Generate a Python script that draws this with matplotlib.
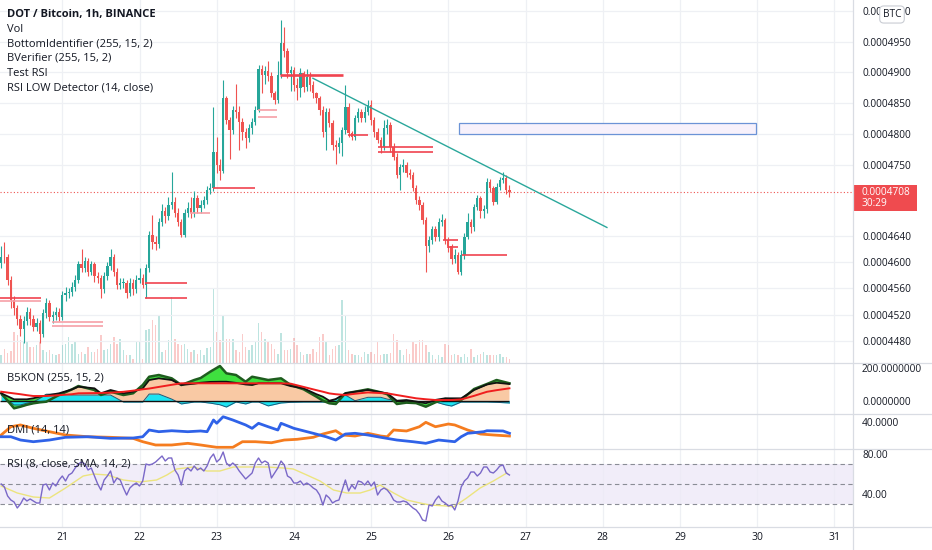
import numpy as np
import matplotlib
matplotlib.use("Agg")
import matplotlib.pyplot as plt
from matplotlib.patches import Rectangle
from matplotlib.lines import Line2D
from matplotlib.ticker import FixedLocator, FuncFormatter, NullLocator, NullFormatter

plt.rcParams['font.family'] = ['Open Sans', 'DejaVu Sans']

# ---------------- data (prices in units of 1e-7 BTC; x = hours since Jan 20 05:00) ----------------
first_open = 4598
closes = [4608, 4607, 4573, 4542, 4530, 4514, 4499, 4511, 4524, 4514,
          4502, 4507, 4491, 4522, 4538, 4516, 4519, 4524, 4516, 4550,
          4553, 4554, 4562, 4573, 4596, 4591, 4601, 4585, 4596, 4578,
          4576, 4558, 4578, 4593, 4608, 4584, 4565, 4568, 4568, 4553,
          4568, 4558, 4573, 4576, 4565, 4591, 4642, 4630, 4627, 4661,
          4678, 4671, 4688, 4693, 4676, 4661, 4642, 4676, 4684, 4676,
          4699, 4684, 4688, 4696, 4712, 4715, 4772, 4751, 4742, 4858,
          4823, 4807, 4839, 4836, 4820, 4804, 4794, 4810, 4820, 4839,
          4905, 4895, 4902, 4894, 4866, 4855, 4895, 4948, 4935, 4898,
          4903, 4879, 4874, 4898, 4876, 4892, 4879, 4866, 4858, 4839,
          4804, 4836, 4818, 4783, 4780, 4786, 4807, 4844, 4802, 4796,
          4826, 4836, 4826, 4836, 4847, 4823, 4804, 4791, 4780, 4810,
          4815, 4780, 4764, 4735, 4747, 4751, 4738, 4735, 4715, 4696,
          4688, 4665, 4624, 4634, 4650, 4638, 4662, 4664, 4634, 4624,
          4604, 4611, 4585, 4611, 4639, 4661, 4653, 4685, 4699, 4678,
          4681, 4724, 4715, 4693, 4716, 4727, 4730, 4712, 4708]
highs = [4625, 4630, 4612, 4578, 4548, 4535, 4520, 4518, 4532, 4530,
         4520, 4515, 4512, 4528, 4545, 4542, 4526, 4532, 4530, 4556,
         4562, 4560, 4570, 4580, 4602, 4620, 4607, 4606, 4602, 4600,
         4584, 4580, 4584, 4600, 4620, 4612, 4590, 4575, 4576, 4572,
         4575, 4574, 4580, 4590, 4582, 4596, 4648, 4672, 4640, 4668,
         4690, 4685, 4700, 4739, 4700, 4684, 4666, 4682, 4692, 4700,
         4710, 4704, 4695, 4702, 4718, 4722, 4844, 4796, 4760, 4887,
         4862, 4828, 4845, 4880, 4845, 4825, 4810, 4816, 4826, 4845,
         4912, 4911, 4910, 4918, 4900, 4870, 4918, 4986, 4975, 4940,
         4910, 4908, 4890, 4907, 4902, 4905, 4900, 4885, 4868, 4862,
         4845, 4842, 4842, 4822, 4790, 4795, 4812, 4879, 4850, 4805,
         4830, 4842, 4840, 4845, 4855, 4855, 4828, 4810, 4795, 4822,
         4824, 4820, 4785, 4770, 4752, 4760, 4756, 4745, 4740, 4720,
         4702, 4692, 4670, 4640, 4655, 4656, 4668, 4674, 4668, 4638,
         4628, 4620, 4615, 4618, 4645, 4676, 4666, 4690, 4704, 4702,
         4688, 4730, 4728, 4718, 4722, 4732, 4740, 4735, 4720]
lows = [4590, 4598, 4565, 4530, 4520, 4505, 4488, 4478, 4505, 4505,
        4495, 4496, 4478, 4486, 4515, 4510, 4508, 4512, 4510, 4512,
        4540, 4545, 4548, 4555, 4568, 4585, 4585, 4578, 4580, 4570,
        4568, 4545, 4552, 4572, 4588, 4578, 4558, 4558, 4560, 4545,
        4548, 4550, 4552, 4568, 4560, 4545, 4585, 4620, 4618, 4622,
        4655, 4660, 4665, 4682, 4670, 4655, 4638, 4638, 4670, 4668,
        4670, 4676, 4676, 4684, 4690, 4705, 4710, 4738, 4727, 4738,
        4816, 4760, 4800, 4826, 4775, 4790, 4778, 4788, 4800, 4815,
        4835, 4866, 4880, 4885, 4860, 4848, 4850, 4890, 4925, 4890,
        4870, 4870, 4855, 4860, 4868, 4870, 4870, 4858, 4850, 4830,
        4795, 4775, 4812, 4775, 4752, 4770, 4765, 4800, 4795, 4790,
        4790, 4820, 4820, 4820, 4830, 4815, 4795, 4785, 4770, 4775,
        4800, 4772, 4758, 4730, 4712, 4740, 4732, 4728, 4710, 4690,
        4680, 4658, 4584, 4615, 4628, 4632, 4632, 4655, 4628, 4615,
        4596, 4598, 4582, 4580, 4605, 4635, 4645, 4648, 4680, 4668,
        4668, 4676, 4708, 4688, 4690, 4712, 4722, 4705, 4700]
volumes = [8, 14, 10, 12, 31, 28, 23, 21, 21, 16,
           16, 18, 21, 13, 11, 13, 9, 8, 9, 18,
           19, 26, 19, 21, 9, 11, 9, 16, 11, 11,
           14, 28, 13, 14, 19, 26, 19, 24, 13, 8,
           8, 4, 21, 21, 4, 33, 34, 43, 38, 48,
           11, 13, 23, 66, 24, 19, 18, 19, 14, 11,
           13, 9, 13, 8, 15, 16, 75, 31, 23, 48,
           24, 24, 24, 13, 11, 29, 16, 13, 18, 21,
           40, 31, 24, 21, 19, 14, 9, 30, 13, 13,
           14, 25, 18, 11, 8, 9, 9, 14, 11, 26,
           29, 21, 8, 14, 17, 18, 63, 47, 13, 9,
           8, 8, 6, 11, 9, 11, 9, 21, 8, 9,
           9, 10, 29, 23, 13, 8, 14, 9, 21, 19,
           23, 23, 18, 11, 8, 4, 8, 6, 19, 18,
           8, 9, 8, 6, 9, 6, 14, 6, 8, 9,
           11, 8, 8, 8, 8, 9, 6, 6, 4]

# support / resistance levels (BottomIdentifier / BVerifier)
lv_price = [4545, 4541, 4509, 4503, 4568, 4545, 4676, 4715, 4838, 4827, 4895,
            4798, 4780, 4772, 4634, 4623, 4610]
lv_start = [-0.4, -0.4, 15.7, 15.7, 44.7, 44.7, 58.7, 65.8, 79.8, 79.8, 86.7,
            107.8, 117.1, 117.1, 137.3, 138.5, 143.2]
lv_end = [12.3, 12.3, 31.7, 31.7, 57.7, 57.7, 64.9, 78.9, 85.7, 85.7, 106.2,
          114.0, 134.1, 134.1, 142.0, 142.0, 157.2]
lv_strong = [True, False, False, False, True, True, False, True, False, False, True,
             True, True, True, True, True, True]

trend_t = [96.9, 188.3]
trend_p = [4890, 4653]
zone_t = [142.3, 234.6]
zone_p = [4800.8, 4818.4]
last_price = 4708

# B5KON indicator
bsk_idx = [0, 4, 6, 8, 10, 12, 14, 18, 22, 24, 29, 31, 34, 38, 41, 44, 46, 49, 53, 56,
           60, 62, 65, 68, 70, 73, 76, 78, 80, 83, 87, 90, 94, 98, 100, 102, 104, 107,
           110, 114, 118, 120, 123, 126, 129, 132, 135, 138, 140, 143, 147, 151, 154, 158]
bsk_black = [45.7, 8.6, 8.6, 8.6, 15, 24.7, 32, 45.7, 70, 86.4, 76.5, 45.7, 66, 45.7, 55.5,
             76.5, 127.7, 138.2, 127.7, 96.9, 105, 111, 116, 117.2, 117.2, 110, 100, 96.9,
             107.4, 107.4, 107.4, 90, 76.5, 40, 24.7, 0, 10, 45.7, 55.5, 66, 52, 45.7, 0,
             4.3, -5, -16, 5, 14.8, 14.8, 14.8, 66, 100, 111, 103]
bsk_green = [45.7, -46.9, -37, -25, -16, -10, -6.2, 35.2, 70, 90.7, 66, 35.2, 55.5, 35.2,
             45.7, 96.9, 148, 158.6, 138.2, 96.9, 127.7, 140, 179, 214, 169, 158.6, 117.2,
             148, 140, 127.7, 138.2, 96.9, 70.3, 24.7, 0, -16, -20.4, 45.7, 55.5, 70.3, 51.8,
             40, -20.4, -12, -15, -37, -9.9, 10.5, 8, 4.3, 72.2, 103, 127.7, 107.4]
bsk_cyan = [35, -26, -26, -15, -8, 15, 40, 41, 35, 35, 35, 35, 35, -8, -8, -8, 41, 41, 10,
            -20, -8, -8, -15, -25, -39, -8, -20, -8, -8, -32, -14, -10, -8, -8, -8, -8, 10,
            35, 0, 21, 21, 10, 0, -10, -12, -8, -8, -25, -33, -8, -8, -8, -10, -14]
bsk_red = [55.5, 45, 40, 34, 29, 29, 29, 34, 40, 45.7, 47, 48, 49.4, 55, 62, 70.3, 75, 85,
           98, 107.4, 107.4, 107.4, 107.4, 107.4, 107.4, 107.4, 107.4, 107.4, 107.4, 107.4,
           107.4, 105, 85, 65, 55.5, 45, 40, 35.2, 43, 51, 47, 45.7, 35, 25, 14.8, 9, 4.3,
           4.3, 4.3, 8, 30, 55, 65, 76.5]

# DMI
dmi_plus_idx = [0, 3, 6, 10, 15, 20, 27, 34, 41, 44, 46, 49, 53, 58, 62, 64, 66, 67, 69, 72,
                76, 78, 80, 83, 86, 87, 91, 97, 101, 104, 107, 110, 114, 118, 123, 128, 132,
                136, 141, 143, 145, 150, 151, 156, 158]
dmi_plus = [21.2, 21.2, 17.1, 15, 17.1, 20.5, 21.2, 19.2, 19.6, 21.2, 29.6, 27.5, 28.7, 27.5,
            28.4, 27.5, 42.1, 38, 46.2, 42.1, 35.9, 31.7, 38, 33.7, 29.6, 38, 31.7, 25.5, 21.2,
            17.1, 24.6, 25.5, 23.4, 20.5, 17.1, 15, 13, 17.1, 15, 21.2, 25.5, 27.5, 28.7, 28.4,
            25.5]
dmi_minus_idx = [0, 3, 6, 10, 15, 20, 27, 34, 41, 44, 48, 53, 58, 62, 67, 72, 75, 79, 84, 88,
                 92, 97, 100, 104, 106, 110, 114, 118, 120, 122, 126, 130, 132, 135, 139, 141,
                 145, 149, 153, 158]
dmi_minus = [23.4, 33.7, 35.9, 31.7, 27.5, 23.4, 21.2, 20.5, 19.2, 15, 10.9, 10.9, 13, 10.9,
             8, 8, 15, 15, 13.7, 17.1, 18, 20.5, 24.6, 28.7, 23.4, 22.1, 25.5, 22.1, 21.2, 29.6,
             28.4, 33.7, 39.2, 33.7, 37.1, 35.9, 29.6, 24.6, 23.4, 22.1]

# RSI (8) and its SMA (14)
rsi = [50, 47, 38, 34, 32, 26, 30, 36, 33, 35,
       33, 31, 31, 49, 50, 44, 51, 48, 54, 58,
       53, 59, 61, 66, 70, 72, 70, 64, 66, 58,
       50, 44, 54, 58, 63, 51, 56, 54, 46, 39,
       46, 49, 51, 48, 53, 70, 69, 70, 72, 75,
       78, 73, 76, 76, 64, 59, 49, 63, 66, 63,
       68, 64, 66, 63, 68, 76, 80, 72, 75, 82,
       71, 68, 71, 68, 63, 59, 55, 58, 61, 71,
       76, 71, 73, 71, 56, 61, 66, 73, 69, 58,
       56, 51, 51, 53, 49, 51, 49, 46, 44, 39,
       29, 39, 36, 31, 33, 34, 44, 54, 43, 49,
       45, 53, 52, 49, 53, 48, 52, 39, 44, 46,
       44, 40, 34, 32, 32, 33, 32, 29, 26, 24,
       20, 14, 13, 29, 28, 34, 38, 33, 31, 28,
       29, 24, 33, 47, 53, 56, 62, 62, 58, 61,
       67, 67, 62, 61, 64, 68, 69, 61, 59]
sma_idx = [0, 5, 10, 15, 20, 25.5, 28.7, 33, 38, 43, 48.3, 51.5, 54.5, 59.7, 63.9, 68, 72.2,
           77.4, 82.5, 87.7, 90.8, 95, 99.1, 103.3, 107.4, 111.6, 114.7, 117.8, 122, 126.1,
           130.2, 133.3, 138.5, 140.6, 144.7, 148.9, 153, 157.2]
sma_val = [48, 41, 37, 36, 46, 58, 60, 59, 54, 52, 54, 59, 65, 67, 63, 63, 67, 67, 67, 66, 65,
           59, 53, 44, 41, 41, 44, 49, 41, 34, 31, 29, 28, 27, 36, 46, 53, 61]

day_labels = ["21", "22", "23", "24", "25", "26", "27", "28", "29", "30", "31"]
day_pos = [19 + 24 * k for k in range(len(day_labels))]

main_ticks = [4480, 4520, 4560, 4600, 4640, 4750, 4800, 4850, 4900, 4950, 5000]

# ---------------- figure ----------------
W, H = 932, 550
fig = plt.figure(figsize=(W / 100, H / 100), dpi=100)
fig.patch.set_facecolor('white')

PLOT_R = 853
XLIM = (-0.37, 264.8)
UP, DN = '#26a69a', '#ef5350'
GRID = '#eef0f4'
TXT = '#131722'
SEP = '#d9dce3'


def pane(top, bottom):
    a = fig.add_axes([0, 1 - bottom / H, PLOT_R / W, (bottom - top) / H])
    a.set_xlim(*XLIM)
    for s in a.spines.values():
        s.set_visible(False)
    a.set_xticks(day_pos)
    a.tick_params(axis='x', length=0, labelbottom=False)
    a.xaxis.grid(True, color=GRID, lw=0.9)
    a.yaxis.tick_right()
    a.tick_params(axis='y', length=0, pad=6.5, labelsize=7.3, labelcolor=TXT)
    a.set_axisbelow(True)
    return a


ax_vol = pane(0, 362.5)
ax = pane(0, 362.5)
ax_b = pane(362.5, 414)
ax_d = pane(414, 449)
ax_r = pane(449, 526.7)

# volume (behind price)
ax_vol.set_zorder(0)
ax.set_zorder(1)
ax.patch.set_visible(False)
ax_vol.set_yticks([])
ax_vol.set_ylim(0, 362.5)

o = np.array([first_open] + closes[:-1], dtype=float)
c = np.array(closes, dtype=float)
hi = np.array(highs, dtype=float)
lo = np.array(lows, dtype=float)
t = np.arange(len(c))
up = c >= o
cols = np.where(up, UP, DN)
ax_vol.bar(t, volumes, width=0.45, color=[UP if u else DN for u in up], alpha=0.3, lw=0)

# main price pane
ax.set_yscale('log')
ax.set_ylim(4448.4, 5019.1)
ax.yaxis.set_major_locator(FixedLocator(main_ticks))
ax.yaxis.set_minor_locator(NullLocator())
ax.yaxis.set_minor_formatter(NullFormatter())
ax.yaxis.set_major_formatter(FuncFormatter(lambda v, p: f"{v * 1e-7:.7f}"))
ax.yaxis.grid(True, color=GRID, lw=0.9)
ax.xaxis.grid(False)

ax.vlines(t, lo, hi, colors=cols, lw=0.8, zorder=3)
ax.bar(t, np.maximum(np.abs(c - o), 1.2), bottom=np.minimum(o, c), width=0.72,
       color=cols, lw=0, zorder=4)

for p, s, e, strong in zip(lv_price, lv_start, lv_end, lv_strong):
    ax.hlines(p, s, e, colors='#f0434f' if strong else '#f6a0a7',
              lw=1.9 if (strong and p == 4895) else 1.2, zorder=5)

ax.plot(trend_t, trend_p, color='#2aa79b', lw=1.0, zorder=5)
ax.add_patch(Rectangle((zone_t[0], zone_p[0]), zone_t[1] - zone_t[0], zone_p[1] - zone_p[0],
                       facecolor='#f7f1fb', edgecolor='#6b93d6', lw=0.9, zorder=2))
ax.axhline(last_price, color='#ef5350', ls=(0, (1, 2)), lw=0.8, zorder=2)

# B5KON pane
ax_b.set_ylim(-82, 235.7)
ax_b.set_yticks([0, 200])
ax_b.yaxis.set_major_formatter(FuncFormatter(lambda v, p: f"{v:.7f}"))
bi = np.array(bsk_idx, dtype=float)
bb = np.array(bsk_black)
bg = np.array(bsk_green)
bc = np.array(bsk_cyan)
ax_b.fill_between(bi, 0, bb, where=bb > 0, interpolate=True, color='#f9c9a4', lw=0, zorder=2)
ax_b.fill_between(bi, bb, bg, color='#3fe03f', lw=0, zorder=2)
ax_b.fill_between(bi, 0, bc, color='#1de4f2', lw=0, zorder=3)
ax_b.plot(bi, bc, color='#1c5a7a', lw=0.7, zorder=3)
ax_b.hlines(0, bi[0] - 0.4, bi[-1], color='#111111', lw=1.0, zorder=4)
ax_b.plot(bi, bg, color='#1e5d1e', lw=1.8, zorder=5)
ax_b.plot(bi, bb, color='#111111', lw=1.3, zorder=6)
ax_b.plot(bsk_idx, bsk_red, color='#f01e1e', lw=1.4, zorder=7)

# DMI pane
ax_d.set_ylim(5.9, 49.6)
ax_d.set_yticks([40])
ax_d.yaxis.set_major_formatter(FuncFormatter(lambda v, p: f"{v:.4f}"))
ax_d.plot(dmi_minus_idx, dmi_minus, color='#f57c1f', lw=2.0, zorder=3)
ax_d.plot(dmi_plus_idx, dmi_plus, color='#2f62e8', lw=2.0, zorder=4)

# RSI pane
ax_r.set_ylim(7.3, 85.0)
ax_r.set_yticks([40, 80])
ax_r.yaxis.set_major_formatter(FuncFormatter(lambda v, p: f"{v:.2f}"))
ax_r.axhspan(30, 70, color='#ede8f7', alpha=0.75, lw=0, zorder=1)
for lvl in (30, 50, 70):
    ax_r.axhline(lvl, color='#8a8d96', ls=(0, (4, 3)), lw=0.8, zorder=2)
ax_r.plot(sma_idx, sma_val, color='#ece47e', lw=1.0, zorder=3)
ax_r.plot(t, rsi, color='#7a68c8', lw=1.0, zorder=4)
ax_r.set_xticks(day_pos)
ax_r.set_xticklabels(day_labels)
ax_r.tick_params(axis='x', labelbottom=True, labelsize=7.5, labelcolor=TXT, pad=3.5)

# separators
for yy in (362.5, 414, 449, 526.7):
    fig.add_artist(Line2D([0, 1], [1 - yy / H] * 2, color=SEP, lw=0.9))
fig.add_artist(Line2D([PLOT_R / W] * 2, [0, 1], color=SEP, lw=0.9))

# legend texts
legend = [("DOT / Bitcoin, 1h, BINANCE", 'bold', 15), ("Vol", 'normal', 29.5),
          ("BottomIdentifier (255, 15, 2)", 'normal', 44), ("BVerifier (255, 15, 2)", 'normal', 58.5),
          ("Test RSI", 'normal', 73), ("RSI LOW Detector (14, close)", 'normal', 88)]
for s, w, yy in legend:
    fig.text(7 / W, 1 - yy / H, s, fontsize=8.0, fontweight=w, color=TXT, va='center', ha='left')
for s, yy in (("B5KON (255, 15, 2)", 377.5), ("DMI (14, 14)", 430.5),
              ("RSI (8, close, SMA, 14, 2)", 464)):
    fig.text(7 / W, 1 - yy / H, s, fontsize=8.0, color=TXT, va='center', ha='left', zorder=10)

# last price label
fig.add_artist(Rectangle((PLOT_R / W, 1 - 211 / H), 64 / W, 25.5 / H, transform=fig.transFigure,
                         facecolor='#ef4b4f', edgecolor='none'))
fig.text(862 / W, 1 - 192.5 / H, f"{last_price * 1e-7:.7f}", fontsize=7.3, color='white',
         va='center', ha='left')
fig.text(862 / W, 1 - 204 / H, "30:29", fontsize=7.3, color='white', va='center', ha='left')

# BTC badge (covers the top price label, as in the source screenshot)
fig.text(892 / W, 1 - 14.5 / H, "BTC", fontsize=7.3, color=TXT, va='center', ha='center',
         zorder=20,
         bbox=dict(boxstyle='round,pad=0.3,rounding_size=0.4', facecolor='white',
                   edgecolor='#c9ccd3', lw=0.8))

fig.savefig("out.png", dpi=100, facecolor='white')
